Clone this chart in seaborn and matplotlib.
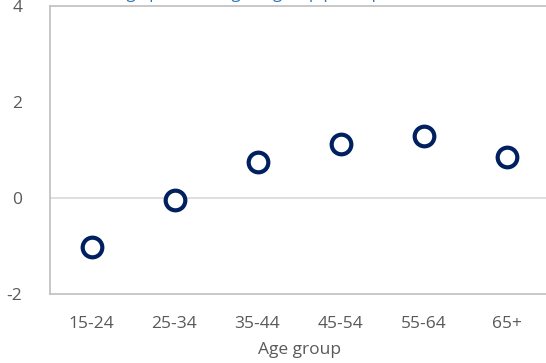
import matplotlib
matplotlib.use("Agg")
import matplotlib.pyplot as plt
import seaborn as sns
import pandas as pd

categories = ["15-24", "25-34", "35-44", "45-54", "55-64", "65+"]
values = [-1.02, -0.04, 0.75, 1.12, 1.29, 0.85]
yticks = [-2, 0, 2, 4]

df = pd.DataFrame({"Age group": categories, "value": values})

sns.set_theme(style="white")
plt.rcParams['font.family'] = ['Open Sans', 'DejaVu Sans']

fig = plt.figure(figsize=(5.46, 3.63), dpi=100)
ax = fig.add_axes([50/546, 1-294/363, 498/546, 288/363])

navy = "#002060"
gray = "#595959"

ax.axhline(0, color="#d9d9d9", lw=1.2, zorder=0)
sns.scatterplot(data=df, x="Age group", y="value", ax=ax, s=200,
                facecolor="white", edgecolor=navy, linewidth=3, zorder=3)

ax.set_ylim(-2, 4)
ax.set_xlim(-0.5, 5.5)
ax.set_yticks(yticks)
ax.set_yticklabels([str(t) for t in yticks])
ax.set_ylabel("")
ax.set_xlabel("Age group", fontsize=12.5, color=gray, labelpad=7)
ax.tick_params(axis="both", labelsize=12.5, colors=gray, length=0)
ax.tick_params(axis="x", pad=16)
ax.tick_params(axis="y", pad=20)
for s in ax.spines.values():
    s.set_color("#bfbfbf")
    s.set_linewidth(1.2)

fig.text(58/546, 1.0 + 2.5/363, "Percentage point change in group participation",
         fontsize=12, color="#2e75b6", ha="left", va="baseline")

fig.savefig("out.png", dpi=100)
